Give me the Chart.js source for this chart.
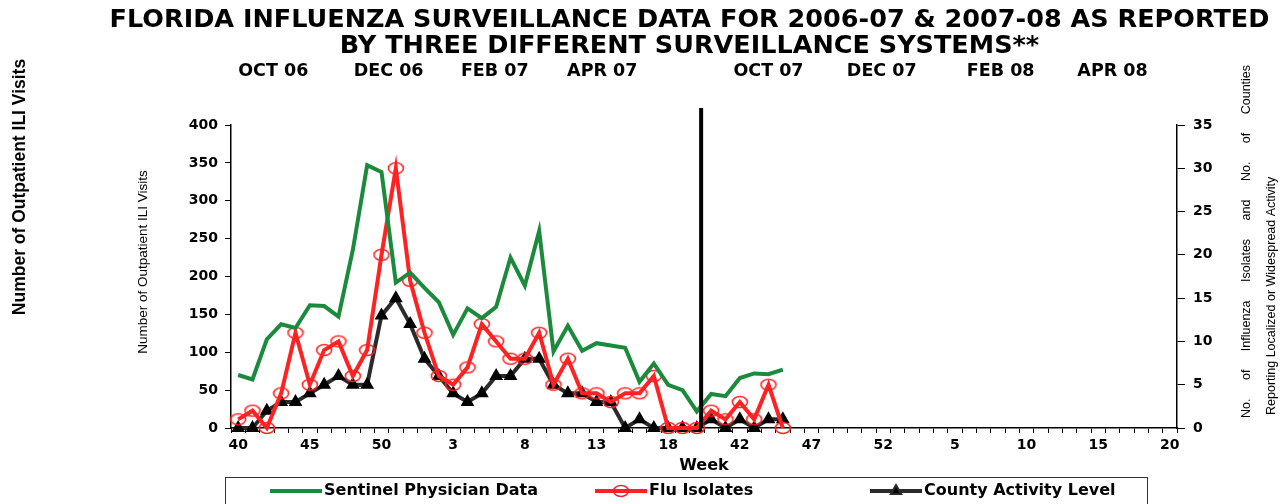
<!DOCTYPE html>
<html>
<head>
<meta charset="utf-8">
<script src="https://cdn.jsdelivr.net/npm/chart.js@4.4.1/dist/chart.umd.min.js"></script>
<style>
  html, body { margin: 0; padding: 0; background: #fff; overflow: hidden; }
</style>
</head>
<body>
<canvas id="myChart" width="1287" height="504"></canvas>
<script>
// week numbers, 2006-07 season then 2007-08 season
const weeks = ['40','41','42','43','44','45','46','47','48','49','50','51','52',
  '1','2','3','4','5','6','7','8','9','10','11','12','13','14','15','16','17','18','19','20',
  '40','41','42','43','44','45','46','47','48','49','50','51','52',
  '1','2','3','4','5','6','7','8','9','10','11','12','13','14','15','16','17','18','19','20'];

// sentinel physician ILI visits (left axis)
const sentinel = [70,64,117,137,132,162,161,147,235,347,338,192,205,
  185,166,123,158,145,160,225,188,260,101,135,102,112,109,106,61,85,57,50,22,
  45,42,66,72,71,77,null,null,null,null,null,null,null,
  null,null,null,null,null,null,null,null,null,null,null,null,null,null,null,null,null,null,null,null];

// flu isolates (right axis)
const isolates = [1,2,0,4,11,5,9,10,6,9,20,30,17,
  11,6,5,7,12,10,8,8,11,5,8,4,4,3,4,4,6,0,0,0,
  2,1,3,1,5,0,null,null,null,null,null,null,null,
  null,null,null,null,null,null,null,null,null,null,null,null,null,null,null,null,null,null,null,null];

// counties reporting localized / widespread activity (right axis)
const counties = [0,0,2,3,3,4,5,6,5,5,13,15,12,
  8,6,4,3,4,6,6,8,8,5,4,4,3,3,0,1,0,0,0,0,
  1,0,1,0,1,1,null,null,null,null,null,null,null,
  null,null,null,null,null,null,null,null,null,null,null,null,null,null,null,null,null,null,null,null];

// month labels along the top, placed at week index
const monthLabels = ['OCT 06','DEC 06','FEB 07','APR 07','OCT 07','DEC 07','FEB 08','APR 08'];
const monthAt = [2.45, 10.5, 17.9, 25.4, 37.0, 44.9, 53.2, 61.0];
const seasonBreak = 32.3;

// hollow oval marker for flu isolates
const ring = document.createElement('canvas');
ring.width = 18; ring.height = 14;
const rc = ring.getContext('2d');
rc.strokeStyle = '#ff2222';
rc.lineWidth = 1.6;
rc.beginPath();
rc.ellipse(9, 7, 7.5, 5.5, 0, 0, Math.PI * 2);
rc.stroke();

const tickFont = { family: 'DejaVu Sans', weight: 'bold', size: 14 };

function vtext(ctx, txt, x, y, font, align) {
  ctx.save();
  ctx.translate(x, y);
  ctx.rotate(-Math.PI / 2);
  ctx.font = font;
  ctx.fillStyle = '#000';
  ctx.textAlign = align;
  ctx.textBaseline = 'middle';
  ctx.fillText(txt, 0, 0);
  ctx.restore();
}

const extras = {
  id: 'extras',
  afterDatasetsDraw(chart) {
    const ctx = chart.ctx;
    const area = chart.chartArea;
    const xs = chart.scales.x;
    // season divider
    const bx = xs.getPixelForValue(seasonBreak);
    ctx.save();
    ctx.strokeStyle = '#000';
    ctx.lineWidth = 4;
    ctx.beginPath();
    ctx.moveTo(bx, area.top - 17);
    ctx.lineTo(bx, area.bottom);
    ctx.stroke();
    ctx.restore();
  },
  afterDraw(chart) {
    const ctx = chart.ctx;
    const area = chart.chartArea;
    // axis titles
    vtext(ctx, 'Number of Outpatient ILI Visits', 20, 187, 'bold 17.5px "Liberation Sans"', 'center');
    vtext(ctx, 'Number of Outpatient ILI Visits', area.left - 88, 262, '13.5px "Liberation Sans"', 'center');
    ctx.save();
    if ('wordSpacing' in ctx) ctx.wordSpacing = '15px';
    vtext(ctx, 'No. of Influenza Isolates and No. of Counties', area.right + 70, area.bottom - 10, '12.5px "Liberation Sans"', 'left');
    ctx.restore();
    vtext(ctx, 'Reporting Localized or Widespread Activity', area.right + 95, area.bottom - 13, '12.5px "Liberation Sans"', 'left');

    // legend
    ctx.save();
    ctx.strokeStyle = '#333';
    ctx.lineWidth = 1;
    ctx.strokeRect(area.left - 5.5, 477.5, 922, 40);
    const starts = [270, 595, 870];
    const ly = 491;
    chart.data.datasets.forEach((ds, i) => {
      const x0 = starts[i];
      ctx.strokeStyle = ds.borderColor;
      ctx.lineWidth = 4;
      ctx.beginPath();
      ctx.moveTo(x0, ly);
      ctx.lineTo(x0 + 52, ly);
      ctx.stroke();
      if (ds.pointRadius > 0) {
        Chart.helpers.drawPoint(ctx, {
          pointStyle: ds.pointStyle, radius: ds.pointRadius, rotation: 0, borderWidth: 1
        }, x0 + 26, ly);
        if (ds.pointStyle === 'triangle') {
          ctx.fillStyle = ds.pointBackgroundColor;
          ctx.fill();
        }
      }
      ctx.fillStyle = '#000';
      ctx.font = 'bold 16px "DejaVu Sans"';
      ctx.textAlign = 'left';
      ctx.textBaseline = 'middle';
      ctx.fillText(ds.label, x0 + 54, ly);
    });
    ctx.restore();
  }
};

new Chart(document.getElementById('myChart'), {
  type: 'line',
  data: {
    labels: weeks,
    datasets: [{
      label: 'Sentinel Physician Data',
      data: sentinel,
      yAxisID: 'y',
      borderColor: '#1b8a3c',
      borderWidth: 4,
      pointRadius: 0,
      tension: 0,
      clip: false
    }, {
      label: 'Flu Isolates',
      data: isolates,
      yAxisID: 'y1',
      borderColor: '#ff2222',
      borderWidth: 4,
      pointStyle: ring,
      pointRadius: 6,
      tension: 0,
      clip: false
    }, {
      label: 'County Activity Level',
      data: counties,
      yAxisID: 'y1',
      borderColor: '#2b2b2b',
      borderWidth: 4,
      pointStyle: 'triangle',
      pointRadius: 4,
      pointBackgroundColor: '#000',
      pointBorderColor: '#000',
      tension: 0,
      clip: false
    }]
  },
  options: {
    responsive: false,
    animation: false,
    devicePixelRatio: 1,
    layout: { padding: { left: 92, right: 0, top: 0, bottom: 26.5 } },
    plugins: {
      legend: { display: false },
      tooltip: { enabled: false },
      title: {
        display: true,
        text: ['FLORIDA INFLUENZA SURVEILLANCE DATA FOR 2006-07 & 2007-08 AS REPORTED',
               'BY THREE DIFFERENT SURVEILLANCE SYSTEMS**'],
        color: '#000',
        font: { family: 'DejaVu Sans', weight: 'bold', size: 25.5, lineHeight: 1.0 },
        padding: { top: 8, bottom: 0 }
      }
    },
    scales: {
      x: {
        position: 'bottom',
        offset: true,
        afterFit: (s) => { s.height = 49.5; },
        border: { color: '#000', width: 1.5 },
        grid: { drawOnChartArea: false, tickLength: 5, color: '#000', offset: true },
        ticks: {
          autoSkip: false, maxRotation: 0, minRotation: 0, padding: 4,
          color: '#000', font: tickFont,
          callback: function (v, i) { return i % 5 === 0 ? weeks[i] : ''; }
        },
        title: {
          display: true, text: 'Week', color: '#000',
          font: { family: 'DejaVu Sans', weight: 'bold', size: 16 },
          padding: { top: 0, bottom: 2 }
        }
      },
      xTop: {
        type: 'linear',
        position: 'top',
        min: -0.5,
        max: weeks.length - 0.5,
        afterBuildTicks: (s) => { s.ticks = monthAt.map(v => ({ value: v })); },
        afterFit: (s) => { s.height = 66; },
        border: { display: false },
        grid: { display: false, drawTicks: false, tickLength: 0 },
        ticks: {
          autoSkip: false, maxRotation: 0, padding: 43, color: '#000',
          font: { family: 'DejaVu Sans', weight: 'bold', size: 17.5 },
          callback: (v) => monthLabels[monthAt.indexOf(v)]
        }
      },
      y: {
        position: 'left',
        min: 0, max: 400,
        afterFit: (s) => { s.width = 139; },
        border: { color: '#000', width: 1.5 },
        grid: { drawOnChartArea: false, tickLength: 6, color: '#000' },
        ticks: { stepSize: 50, padding: 7, color: '#000', font: tickFont }
      },
      y1: {
        position: 'right',
        min: 0, max: 35,
        afterFit: (s) => { s.width = 110; },
        border: { color: '#000', width: 1.5 },
        grid: { drawOnChartArea: false, tickLength: 8, color: '#000' },
        ticks: { stepSize: 5, padding: 8, color: '#000', font: tickFont }
      }
    }
  },
  plugins: [extras]
});
</script>
</body>
</html>
